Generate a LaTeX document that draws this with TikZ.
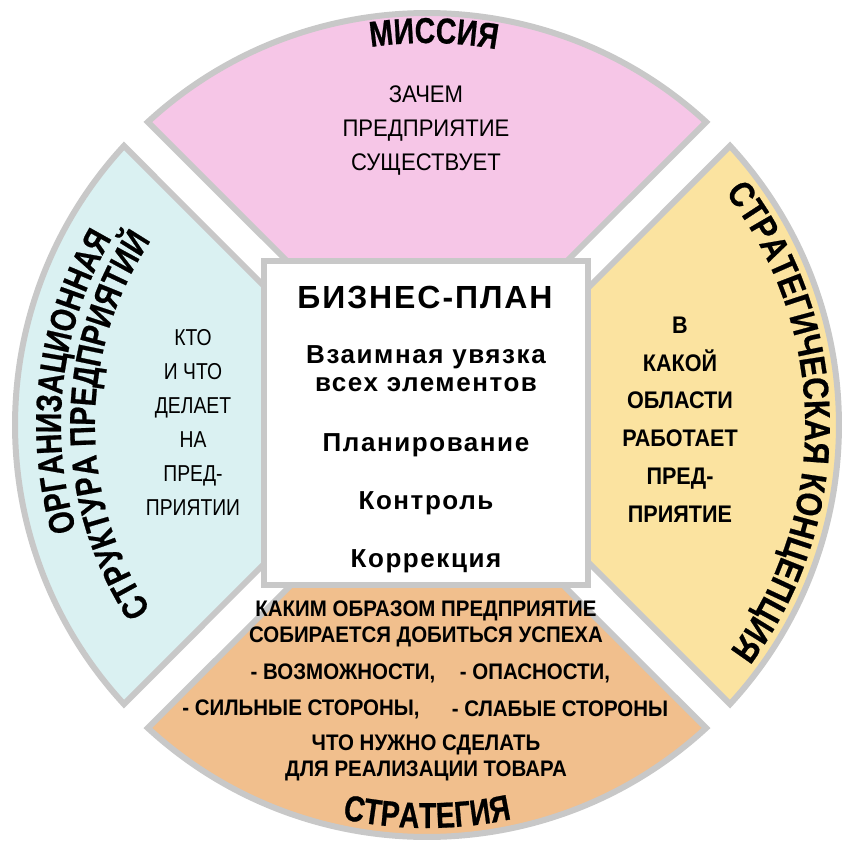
\documentclass[tikz,border=0pt]{standalone}
\usepackage{fontspec}
\setmainfont{Liberation Sans}
\newfontfamily\titlef[FakeStretch=0.79,FakeBold=0.6]{Liberation Sans Bold}
\newfontfamily\titlefw[FakeStretch=0.85,FakeBold=0.6]{Liberation Sans Bold}
\newfontfamily\leftf[FakeStretch=0.84]{Liberation Sans}
\newfontfamily\misf[FakeStretch=0.92]{Liberation Sans}
\newfontfamily\rightf[FakeStretch=0.9]{Liberation Sans Bold}
\newfontfamily\stratf[FakeStretch=0.91]{Liberation Sans Bold}
\newfontfamily\centref[LetterSpace=6]{Liberation Sans Bold}
\usetikzlibrary{decorations.text}
\definecolor{cpink}{RGB}{246,198,231}
\definecolor{cblue}{RGB}{218,241,242}
\definecolor{cyell}{RGB}{251,227,160}
\definecolor{corange}{RGB}{241,191,141}
\definecolor{cgray}{RGB}{200,200,200}
\tikzset{
  sector/.style={draw=cgray, line width=6pt, line join=miter},
  title/.style={decorate, decoration={text along path, text align=center,
      text={|\titlef\fontsize{36}{36}\selectfont|#1}}},
  titlew/.style={decorate, decoration={text along path, text align=center,
      text={|\titlefw\fontsize{36}{36}\selectfont|#1}}},
  lefttxt/.style={align=center, inner sep=0pt, font=\leftf\fontsize{23}{34}\selectfont},
  mistxt/.style={align=center, inner sep=0pt, font=\misf\fontsize{24}{34}\selectfont},
  righttxt/.style={align=center, inner sep=0pt, font=\rightf\fontsize{24}{37.8}\selectfont},
  strat/.style={align=center, inner sep=0pt, font=\stratf\fontsize{22.5}{26}\selectfont},
  centre/.style={inner sep=0pt, font=\centref\fontsize{26}{28}\selectfont},
}
\begin{document}
\begin{tikzpicture}[x=1pt,y=1pt]
\useasboundingbox (-427,-424) rectangle (422,425);
\pgfmathsetmacro{\R}{412}
\pgfmathsetmacro{\s}{24}
\pgfmathsetmacro{\dd}{asin(\s/sqrt(2)/\R)}
\pgfmathsetmacro{\aA}{45+\dd}\pgfmathsetmacro{\aB}{135-\dd}
\pgfmathsetmacro{\aC}{135+\dd}\pgfmathsetmacro{\aD}{225-\dd}
\pgfmathsetmacro{\aE}{225+\dd}\pgfmathsetmacro{\aF}{315-\dd}
\pgfmathsetmacro{\aG}{-45+\dd}\pgfmathsetmacro{\aH}{45-\dd}
% sectors
\draw[sector, fill=cpink] (0pt,\s pt) -- (\aA:\R pt) arc[start angle=\aA, end angle=\aB, radius=\R pt] -- cycle;
\draw[sector, fill=cblue] (-\s pt,0pt) -- (\aC:\R pt) arc[start angle=\aC, end angle=\aD, radius=\R pt] -- cycle;
\draw[sector, fill=corange] (0pt,-\s pt) -- (\aE:\R pt) arc[start angle=\aE, end angle=\aF, radius=\R pt] -- cycle;
\draw[sector, fill=cyell] (\s pt,0pt) -- (\aG:\R pt) arc[start angle=\aG, end angle=\aH, radius=\R pt] -- cycle;
% centre square
\node[draw=cgray, line width=6pt, fill=white, minimum size=324pt, inner sep=0pt] (sq) at (-1,2) {};
% curved titles
\path[title={МИССИЯ}] (119:382pt) arc[start angle=119, end angle=59, radius=382pt];
\path[titlew={СТРАТЕГИЧЕСКАЯ КОНЦЕПЦИЯ}] (70.6:378pt) arc[start angle=70.6, end angle=-69.4, radius=378pt];
\path[title={СТРАТЕГИЯ}] (240:403pt) arc[start angle=240, end angle=300, radius=403pt];
\path[title={ОРГАНИЗАЦИОННАЯ}] (233:366pt) arc[start angle=233, end angle=113, radius=366pt];
\path[title={СТРУКТУРА ПРЕДПРИЯТИЙ}] (240:332pt) arc[start angle=240, end angle=120, radius=332pt];
% sector texts
\node[mistxt] (mis) at (-1,294) {ЗАЧЕМ\\ПРЕДПРИЯТИЕ\\СУЩЕСТВУЕТ};
\node[lefttxt] (org) at (-234,3) {КТО\\И ЧТО\\ДЕЛАЕТ\\НА\\ПРЕД-\\ПРИЯТИИ};
\node[righttxt] (con) at (253,5.5) {В\\КАКОЙ\\ОБЛАСТИ\\РАБОТАЕТ\\ПРЕД-\\ПРИЯТИЕ};
% centre texts
\node[centre, font=\centref\fontsize{32}{34}\selectfont] (bp) at (-2,128) {БИЗНЕС-ПЛАН};
\node[centre] (c1) at (-1,68) {Взаимная увязка};
\node[centre] (c2) at (-1,40) {всех элементов};
\node[centre] (c3) at (-1,-20) {Планирование};
\node[centre] (c4) at (-1,-78) {Контроль};
\node[centre] (c5) at (-1,-136) {Коррекция};
% strategy texts
\node[strat] (s1) at (-1,-199) {КАКИМ ОБРАЗОМ ПРЕДПРИЯТИЕ\\СОБИРАЕТСЯ ДОБИТЬСЯ УСПЕХА};
\node[strat] (s2) at (-84,-248) {- ВОЗМОЖНОСТИ,};
\node[strat] (s3) at (108,-248) {- ОПАСНОСТИ,};
\node[strat] (s4) at (-126,-284) {- СИЛЬНЫЕ СТОРОНЫ,};
\node[strat] (s5) at (133,-284) {- СЛАБЫЕ СТОРОНЫ};
\node[strat] (s6) at (-1,-333) {ЧТО НУЖНО СДЕЛАТЬ\\ДЛЯ РЕАЛИЗАЦИИ ТОВАРА};
\end{tikzpicture}
\end{document}
